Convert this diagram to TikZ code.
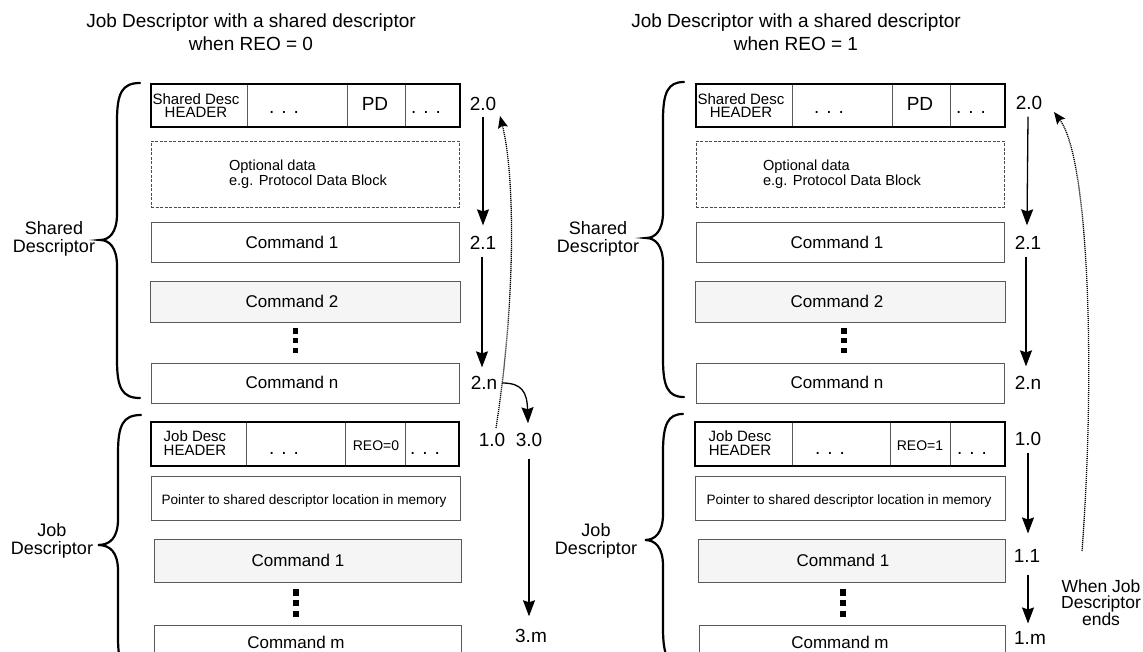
\documentclass[tikz,border=0pt]{standalone}
\usepackage{fontspec}
\setmainfont{Liberation Sans}
\usetikzlibrary{arrows.meta}
\newcommand\fsz[2]{\fontsize{#1pt}{#2pt}\selectfont}
% curly brace: #1 end x, #2 spine x, #3 tip x, #4 top y, #5 tip y, #6 bottom y
\newcommand\cbrace[6]{%
 \draw[bracestyle] (#1,#4) .. controls (#2+5,#4) and (#2,#4+10) .. (#2,#4+38) -- (#2,#5-26) .. controls (#2,#5-7) and (#2-8,#5) .. (#3,#5) .. controls (#2-8,#5) and (#2,#5+7) .. (#2,#5+26) -- (#2,#6-38) .. controls (#2,#6-10) and (#2+5,#6) .. (#1,#6);}
\begin{document}
\begin{tikzpicture}[x=1pt,y=-1pt,
  every node/.style={inner sep=0pt, outer sep=0pt, text=black},
  box/.style={draw=black!65, line width=0.9pt, anchor=north west, fill=white},
  gbox/.style={box, fill=black!4},
  obox/.style={draw=black!70, line width=0.9pt, dashed, dash pattern=on 3pt off 1.5pt, anchor=north west},
  hcell/.style={draw=black!65, line width=0.9pt, anchor=north west, minimum height=43},
  hout/.style={draw=black, line width=2pt, anchor=north west, minimum height=43},
  bracestyle/.style={draw=black, line width=2.2pt, line cap=round},
  arr/.style={draw=black, line width=1.3pt, -{Stealth[length=16pt,width=12pt,inset=2pt]}},
  darr/.style={draw=black, line width=1.3pt, dash pattern=on 1.1pt off 0.9pt, -{Stealth[length=12pt,width=10pt,inset=2pt]}},
  title/.style={align=center, font=\fsz{19}{23}},
  side/.style={align=center, font=\fsz{18}{18}},
  steplbl/.style={font=\fsz{19}{19}},
  cmdtxt/.style={font=\fsz{17}{17}},
  small/.style={align=center, font=\fsz{15}{13.5}},
  dots/.style={anchor=base, font=\fsz{19}{19}},
  vdot/.style={fill=black}
]
\useasboundingbox (0,0) rectangle (1143,651);
\clip (0,0) rectangle (1143,651);

% ================= LEFT PANEL (REO = 0) =================
\node[title] (titleL) at (251,32) {Job Descriptor with a shared descriptor\\when REO = 0};

% shared header
\node[hcell, minimum width=96] (shAL) at (151,84) {};
\node[hcell, minimum width=100] (shBL) at (247,84) {};
\node[hcell, minimum width=58] (shCL) at (347,84) {};
\node[hcell, minimum width=55] (shDL) at (405,84) {};
\node[hout, minimum width=309] (shL) at (151,84) {};
\node[small] (shtL) at (196,105.5) {Shared Desc\\HEADER};
\node[dots] (shd1L) at (284,113) {. . .};
\node[font=\fsz{19}{19}] (pdL) at (375,104) {PD};
\node[dots] (shd2L) at (426,113) {. . .};

% optional data
\node[obox, minimum width=308, minimum height=66] (optL) at (151,141) {};
\node[anchor=base west, align=left, font=\fsz{14.6}{15}] (opttL) at (229,185.5) {Optional data\\e.g. Protocol Data Block};

% commands
\node[box, minimum width=308, minimum height=40] (sc1L) at (151,222) {};
\node[cmdtxt] (sc1tL) at (292,242) {Command 1};
\node[gbox, minimum width=310, minimum height=41] (sc2L) at (150,281) {};
\node[cmdtxt] (sc2tL) at (292,301) {Command 2};
\fill[vdot] (292.5,328) rectangle (298,333.5);
\fill[vdot] (292.5,337.5) rectangle (298,343);
\fill[vdot] (292.5,347.5) rectangle (298,353);
\node[box, minimum width=308, minimum height=40] (scnL) at (151,363) {};
\node[cmdtxt] (scntL) at (292,382) {Command n};

% job header
\node[hcell, minimum width=95, minimum height=44] (jhAL) at (151,422) {};
\node[hcell, minimum width=99, minimum height=44] (jhBL) at (246,422) {};
\node[hcell, minimum width=60, minimum height=44] (jhCL) at (345,422) {};
\node[hcell, minimum width=54, minimum height=44] (jhDL) at (405,422) {};
\node[hout, minimum width=308, minimum height=44] (jhL) at (151,422) {};
\node[small] (jhtL) at (195,443) {Job Desc\\HEADER};
\node[dots] (jhd1L) at (284,454) {. . .};
\node[font=\fsz{14}{14}] (reoL) at (376,446) {REO=0};
\node[dots] (jhd2L) at (425,454) {. . .};

\node[box, minimum width=309, minimum height=44] (ptrL) at (151,476) {};
\node[anchor=base, font=\fsz{13.6}{13.6}] (ptrtL) at (304,504) {Pointer to shared descriptor location in memory};
\node[gbox, minimum width=307, minimum height=43] (jc1L) at (154,539) {};
\node[cmdtxt] (jc1tL) at (298,560) {Command 1};
\fill[vdot] (293,589) rectangle (299,595.5);
\fill[vdot] (293,600) rectangle (299,606);
\fill[vdot] (293,611) rectangle (299,617);
\node[box, minimum width=307, minimum height=43] (jcmL) at (154,625) {};
\node[cmdtxt] (jcmtL) at (296,642.5) {Command m};

% braces and side labels
\cbrace{140}{117}{100}{83}{240}{398}
\node[side] (sdL) at (54,239) {Shared\\Descriptor};
\cbrace{141}{118}{98}{415}{545}{675}
\node[side] (jdL) at (52,541) {Job\\Descriptor};

% step labels
\node[steplbl] (l20L) at (483,104) {2.0};
\node[steplbl] (l21L) at (483,243) {2.1};
\node[steplbl] (l2nL) at (484,383) {2.n};
\node[steplbl] (l10L) at (492,440) {1.0};
\node[steplbl] (l30L) at (529,440) {3.0};
\node[steplbl] (l3mL) at (531,636) {3.m};

\draw[arr] ([shift={(0,6)}]l20L.south) -- ([shift={(0,-11)}]l21L.north);
\draw[arr] ([shift={(-1,7)}]l21L.south) -- ([shift={(-2,-9)}]l2nL.north);
\draw[arr] ([shift={(5,0)}]l2nL.east) .. controls (522,383) and (527,392) .. ([shift={(-1,-10)}]l30L.north);
\draw[arr] ([shift={(0,12)}]l30L.south) -- ([shift={(-2,-13)}]l3mL.north);
\coordinate (dL1) at (496,428);
\coordinate (dL2) at (500,116);
\draw[darr] (dL1) .. controls (516,300) and (515,175) .. (dL2);

% ================= RIGHT PANEL (REO = 1) =================
\node[title] (titleR) at (796,32) {Job Descriptor with a shared descriptor\\when REO = 1};

\node[hcell, minimum width=96] (shAR) at (696,84) {};
\node[hcell, minimum width=100] (shBR) at (792,84) {};
\node[hcell, minimum width=58] (shCR) at (892,84) {};
\node[hcell, minimum width=55] (shDR) at (950,84) {};
\node[hout, minimum width=309] (shR) at (696,84) {};
\node[small] (shtR) at (741,105.5) {Shared Desc\\HEADER};
\node[dots] (shd1R) at (829,113) {. . .};
\node[font=\fsz{19}{19}] (pdR) at (920,104) {PD};
\node[dots] (shd2R) at (971,113) {. . .};

\node[obox, minimum width=308, minimum height=66] (optR) at (696,141) {};
\node[anchor=base west, align=left, font=\fsz{14.6}{15}] (opttR) at (763,185.5) {Optional data\\e.g. Protocol Data Block};

\node[box, minimum width=308, minimum height=40] (sc1R) at (696,222) {};
\node[cmdtxt] (sc1tR) at (837,242) {Command 1};
\node[gbox, minimum width=310, minimum height=41] (sc2R) at (695,281) {};
\node[cmdtxt] (sc2tR) at (837,301) {Command 2};
\fill[vdot] (841,328) rectangle (846.5,333.5);
\fill[vdot] (841,337.5) rectangle (846.5,343);
\fill[vdot] (841,347.5) rectangle (846.5,353);
\node[box, minimum width=308, minimum height=40] (scnR) at (696,363) {};
\node[cmdtxt] (scntR) at (837,382) {Command n};

\node[hcell, minimum width=97, minimum height=44] (jhAR) at (695,422) {};
\node[hcell, minimum width=98, minimum height=44] (jhBR) at (792,422) {};
\node[hcell, minimum width=60, minimum height=44] (jhCR) at (890,422) {};
\node[hcell, minimum width=55, minimum height=44] (jhDR) at (950,422) {};
\node[hout, minimum width=310, minimum height=44] (jhR) at (695,422) {};
\node[small] (jhtR) at (740,443) {Job Desc\\HEADER};
\node[dots] (jhd1R) at (830,454) {. . .};
\node[font=\fsz{14}{14}] (reoR) at (920,446) {REO=1};
\node[dots] (jhd2R) at (972,454) {. . .};

\node[box, minimum width=310, minimum height=44] (ptrR) at (695,476) {};
\node[anchor=base, font=\fsz{13.6}{13.6}] (ptrtR) at (849,504) {Pointer to shared descriptor location in memory};
\node[gbox, minimum width=307, minimum height=43] (jc1R) at (698,539) {};
\node[cmdtxt] (jc1tR) at (843,560) {Command 1};
\fill[vdot] (840,589) rectangle (846,595.5);
\fill[vdot] (840,600) rectangle (846,606);
\fill[vdot] (840,611) rectangle (846,617);
\node[box, minimum width=306, minimum height=43] (jcmR) at (699,625) {};
\node[cmdtxt] (jcmtR) at (840,642.5) {Command m};

\cbrace{684}{663}{646}{82}{238}{397}
\node[side] (sdR) at (598,239) {Shared\\Descriptor};
\cbrace{683}{663}{645}{414}{540}{666}
\node[side] (jdR) at (596,541) {Job\\Descriptor};

\node[steplbl] (l20R) at (1029,103) {2.0};
\node[steplbl] (l21R) at (1028,243) {2.1};
\node[steplbl] (l2nR) at (1028,383) {2.n};
\node[steplbl] (l10R) at (1028,439) {1.0};
\node[steplbl] (l11R) at (1027,556) {1.1};
\node[steplbl] (l1mR) at (1030,638) {1.m};
\node[align=center, font=\fsz{17.5}{16}] (whenR) at (1101,603) {When Job\\Descriptor\\ends};

\draw[arr] ([shift={(-1,7)}]l20R.south) -- ([shift={(-1,-11)}]l21R.north);
\draw[arr] ([shift={(-2,7)}]l21R.south) -- ([shift={(-2,-10)}]l2nR.north);
\draw[arr] ([shift={(0,7)}]l10R.south) -- ([shift={(1,-16)}]l11R.north);
\draw[arr] ([shift={(1,12)}]l11R.south) -- ([shift={(-2,-8)}]l1mR.north);
\coordinate (dR1) at (1082,551);
\coordinate (dR2) at (1054,112);
\draw[darr] (dR1) .. controls (1095,380) and (1090,160) .. (dR2);
\end{tikzpicture}
\end{document}
